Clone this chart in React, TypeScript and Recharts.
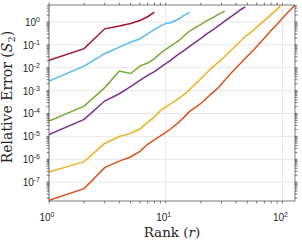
import React from 'react'
import { LineChart, Line, XAxis, YAxis, CartesianGrid, Label } from 'recharts'

// ── Relative error S2 vs. rank r, one curve per test case (log–log) ──────────

const ranks = [
  1, 2, 3, 4, 5, 6, 7, 8, 9, 10, 11, 12, 13, 14, 15, 16,
  18, 20, 22, 24, 26, 28, 30, 32, 36, 40, 44, 48,
  56, 64, 72, 80, 88, 96, 104, 112, 120, 128,
]

// values follow `ranks` index by index; a series stops where its array ends
const errCrimson = [0.021, 0.068, 0.5, 0.66, 0.86, 1.16, 1.69, 2.68]
const errSky = [
  0.0026, 0.0118, 0.041, 0.079, 0.13, 0.185, 0.3, 0.47,
  0.66, 0.86, 0.92, 1.13, 1.38, 1.79, 2.2, 2.6,
]
const errGreen = [
  4.7e-5, 2.1e-4, 1.35e-3, 7.2e-3, 5.6e-3, 0.0118, 0.016, 0.025,
  0.042, 0.064, 0.087, 0.12, 0.155, 0.22, 0.3, 0.4,
  0.57, 0.78, 1.05, 1.35, 1.65, 2.1, 2.5, 3.0,
]
const errPurple = [
  1.2e-5, 5.5e-5, 3.5e-4, 7.3e-4, 1.5e-3, 2.8e-3, 4.6e-3, 6.7e-3,
  0.0103, 0.015, 0.021, 0.03, 0.04, 0.052, 0.066, 0.085,
  0.13, 0.19, 0.28, 0.38, 0.5, 0.66, 0.85, 1.08,
  1.67, 2.45, 3.5, 4.6,
]
const errAmber = [
  2.75e-7, 7.9e-7, 4.9e-6, 9.8e-6, 1.35e-5, 2.1e-5, 4.1e-5, 7.1e-5,
  1.33e-4, 1.9e-4, 2.6e-4, 3.5e-4, 4.7e-4, 6.2e-4, 8.1e-4, 1.12e-3,
  2.0e-3, 3.4e-3, 5.3e-3, 8.5e-3, 0.012, 0.017, 0.023, 0.031,
  0.057, 0.094, 0.148, 0.23,
  0.43, 0.78, 1.29, 2.1, 3.3, 4.9,
]
const errOrange = [
  1.6e-8, 5.2e-8, 4.3e-7, 8.3e-7, 1.26e-6, 2.2e-6, 4.5e-6, 7e-6,
  1.05e-5, 1.48e-5, 2.1e-5, 3.0e-5, 4.3e-5, 6.1e-5, 8.7e-5, 1.23e-4,
  1.85e-4, 2.75e-4, 4.3e-4, 6.5e-4, 9.3e-4, 1.3e-3, 1.95e-3, 2.8e-3,
  5.6e-3, 9.8e-3, 0.016, 0.026,
  0.057, 0.12, 0.23, 0.43, 0.7, 1.16,
  1.83, 2.7, 3.9, 5.5,
]

const series = [
  { key: 'crimson', color: '#A2142F', values: errCrimson },
  { key: 'sky', color: '#4DBEEE', values: errSky },
  { key: 'green', color: '#77AC30', values: errGreen },
  { key: 'purple', color: '#7E2F8E', values: errPurple },
  { key: 'amber', color: '#EDB120', values: errAmber },
  { key: 'orange', color: '#D95319', values: errOrange },
]

const xMajor = [1, 10, 100]
const yMajor = [1e-7, 1e-6, 1e-5, 1e-4, 1e-3, 1e-2, 1e-1, 1]
const xDomain: [number, number] = [1, 128]
const yDomain: [number, number] = [1.5e-8, 5.5]

// minor ticks 2..9 of every decade that touches the domain
function logTicks([lo, hi]: [number, number]) {
  const out: number[] = []
  for (let e = Math.floor(Math.log10(lo)); e <= Math.ceil(Math.log10(hi)); e++) {
    for (let m = 1; m <= 9; m++) {
      const v = Number((m * Math.pow(10, e)).toPrecision(3))
      if (v >= lo && v <= hi) out.push(v)
    }
  }
  return out
}
const xTicks = logTicks(xDomain)
const yTicks = logTicks(yDomain)

const data = ranks.map((r, i) => {
  const row: Record<string, number | null> = { r }
  for (const s of series) row[s.key] = i < s.values.length ? s.values[i] : null
  return row
})

const AXIS = '#262626'
const GRID = '#e8e8e8'
const TICK_LEN = 2.5
const TICK_FONT = '"Liberation Sans", Arial, sans-serif'
const LABEL_FONT = '"DejaVu Serif", serif'

const isMajor = (v: number) => Math.abs(Math.log10(v) - Math.round(Math.log10(v))) < 1e-6

const Pow = ({ v }: { v: number }) => (
  <>
    10<tspan dy={-4} fontSize={7}>{Math.round(Math.log10(v))}</tspan>
  </>
)

const BottomTick = (p: any) => (
  <g>
    <line x1={p.x} x2={p.x} y1={p.y} y2={p.y + TICK_LEN} stroke={AXIS} strokeWidth={0.6} />
    {isMajor(p.payload.value) && (
      <text x={p.x - 2} y={p.y + 20} textAnchor="middle" fontSize={10} fontFamily={TICK_FONT} fill={AXIS}>
        <Pow v={p.payload.value} />
      </text>
    )}
  </g>
)
const TopTick = (p: any) => (
  <line x1={p.x} x2={p.x} y1={p.y} y2={p.y - TICK_LEN} stroke={AXIS} strokeWidth={0.6} />
)
const LeftTick = (p: any) => (
  <g>
    <line x1={p.x} x2={p.x - TICK_LEN} y1={p.y} y2={p.y} stroke={AXIS} strokeWidth={0.6} />
    {isMajor(p.payload.value) && (
      <text x={p.x - 9} y={p.y + 4} textAnchor="end" fontSize={10} fontFamily={TICK_FONT} fill={AXIS}>
        <Pow v={p.payload.value} />
      </text>
    )}
  </g>
)
const RightTick = (p: any) => (
  <line x1={p.x} x2={p.x + TICK_LEN} y1={p.y} y2={p.y} stroke={AXIS} strokeWidth={0.6} />
)

const axisLine = { stroke: AXIS, strokeWidth: 0.6 }

export default function App() {
  return (
    <div style={{ position: 'absolute', left: 0, top: 0, width: 302, height: 242, background: '#fff' }}>
      <LineChart width={302} height={242} data={data} margin={{ top: 0, right: 0, left: 0, bottom: 0 }}>
        <CartesianGrid stroke={GRID} strokeWidth={1} horizontalValues={yMajor} verticalValues={xMajor} />
        <XAxis dataKey="r" type="number" scale="log" domain={xDomain} allowDataOverflow ticks={xTicks}
               interval={0} height={41} tickSize={0} tickMargin={0} tickLine={false}
               axisLine={axisLine} tick={BottomTick}>
          <Label content={() => (
            <text x={172} y={237} textAnchor="middle" fontSize={13.5} fontFamily={LABEL_FONT} fill={AXIS}>
              Rank (<tspan fontStyle="italic">r</tspan>)
            </text>
          )} />
        </XAxis>
        <XAxis xAxisId="top" orientation="top" dataKey="r" type="number" scale="log" domain={xDomain}
               allowDataOverflow ticks={xTicks} interval={0} height={5} tickSize={0} tickMargin={0}
               tickLine={false} axisLine={axisLine} tick={TopTick} />
        <YAxis type="number" scale="log" domain={yDomain} allowDataOverflow ticks={yTicks} interval={0}
               width={49} tickSize={0} tickMargin={0} tickLine={false} axisLine={axisLine} tick={LeftTick}>
          <Label content={() => (
            <text x={12} y={97} transform="rotate(-90, 12, 97)" textAnchor="middle" fontSize={14}
                  fontFamily={LABEL_FONT} fill={AXIS}>
              Relative Error (<tspan fontStyle="italic">S</tspan>
              <tspan fontSize={10} dy={3}>2</tspan><tspan dy={-3}>)</tspan>
            </text>
          )} />
        </YAxis>
        <YAxis yAxisId="right" orientation="right" type="number" scale="log" domain={yDomain}
               allowDataOverflow ticks={yTicks} interval={0} width={7} tickSize={0} tickMargin={0}
               tickLine={false} axisLine={axisLine} tick={RightTick} />
        {series.map(s => (
          <Line key={s.key} dataKey={s.key} stroke={s.color} strokeWidth={1.5} dot={false}
                isAnimationActive={false} />
        ))}
      </LineChart>
    </div>
  )
}
